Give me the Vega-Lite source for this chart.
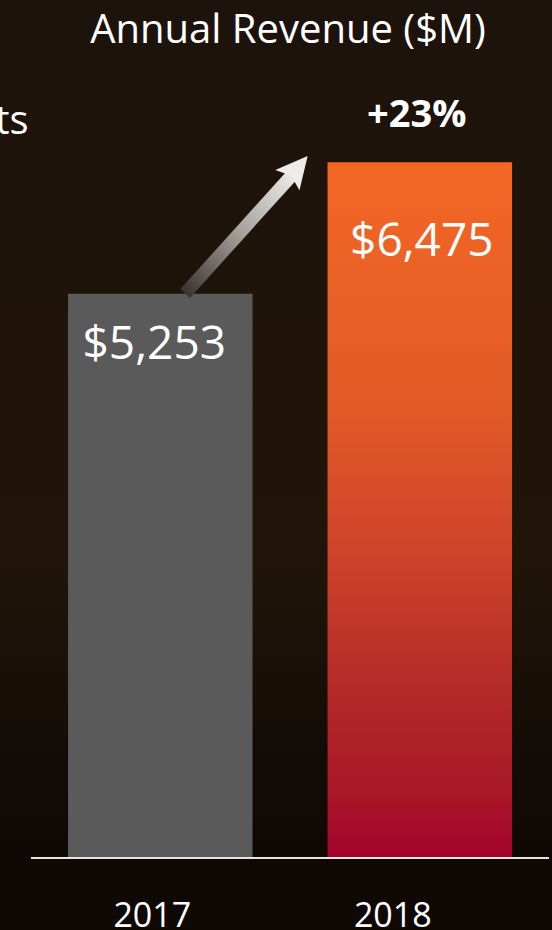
{
  "$schema": "https://vega.github.io/schema/vega-lite/v6.json",
  "width": 552,
  "height": 930,
  "autosize": "none",
  "padding": 0,
  "background": "#1a1109",
  "view": {
    "stroke": null,
    "fill": {
      "gradient": "linear", "x1": 0, "y1": 0, "x2": 0, "y2": 1,
      "stops": [
        {"offset": 0, "color": "#1c130c"},
        {"offset": 0.4, "color": "#201409"},
        {"offset": 0.6, "color": "#211509"},
        {"offset": 0.8, "color": "#140c06"},
        {"offset": 0.92, "color": "#0f0804"},
        {"offset": 1, "color": "#0f0905"}
      ]
    }
  },
  "title": {
    "text": "Annual Revenue ($M)",
    "font": "Open Sans",
    "fontSize": 40,
    "fontWeight": "normal",
    "color": "#ffffff",
    "anchor": "middle",
    "frame": "group",
    "dx": 12,
    "offset": -83,
    "baseline": "alphabetic"
  },
  "datasets": {
    "revenue": [
      {"year": "2017", "value": 5253, "label": "$5,253", "change": null},
      {"year": "2018", "value": 6475, "label": "$6,475", "change": "+23%"}
    ],
    "baseline": [
      {"pos": 2016.502, "pos2": 2018.498, "value": 0}
    ],
    "arrow": [
      {"pos": 2017.0954, "value": 5253},
      {"pos": 2017.5077, "value": 6357}
    ],
    "arrowhead": [
      {"pos": 2017.5269, "value": 6416}
    ],
    "sidetext": [
      {"pos": 2016.4923, "value": 6739, "text": "ts"}
    ]
  },
  "resolve": {"scale": {"x": "independent"}, "axis": {"x": "independent"}},
  "layer": [
    {
      "data": {"name": "revenue"},
      "transform": [{"filter": "datum.year == '2017'"}],
      "mark": {"type": "bar", "color": "#5a5a5a"},
      "encoding": {
        "x": {
          "field": "year", "type": "nominal",
          "scale": {"type": "band", "domain": ["2017", "2018"], "paddingInner": 0.289, "paddingOuter": 0.208, "align": 0.63},
          "axis": {
            "orient": "bottom", "offset": -72, "title": null,
            "domain": false,
            "ticks": false, "labelAngle": 0,
            "labelFont": "Open Sans", "labelFontSize": 34, "labelColor": "#ffffff",
            "labelPadding": 41,
            "labelOffset": {"condition": {"test": "datum.value == '2018'", "value": -27}, "value": -8}
          }
        },
        "y": {"field": "value", "type": "quantitative", "scale": {"domain": [-670.2, 7986.2], "nice": false, "zero": false}, "axis": null}
      }
    },
    {
      "data": {"name": "revenue"},
      "transform": [{"filter": "datum.year == '2018'"}],
      "mark": {
        "type": "bar",
        "color": {
          "gradient": "linear", "x1": 0, "y1": 0, "x2": 0, "y2": 1,
          "stops": [
            {"offset": 0, "color": "#f36724"},
            {"offset": 0.35, "color": "#e35a27"},
            {"offset": 0.55, "color": "#d0442a"},
            {"offset": 0.77, "color": "#b22827"},
            {"offset": 0.9, "color": "#aa1828"},
            {"offset": 1, "color": "#a3022a"}
          ]
        }
      },
      "encoding": {
        "x": {"field": "year", "type": "nominal", "scale": {"type": "band", "domain": ["2017", "2018"], "paddingInner": 0.289, "paddingOuter": 0.208, "align": 0.63}, "axis": null},
        "y": {"field": "value", "type": "quantitative", "scale": {"domain": [-670.2, 7986.2], "nice": false, "zero": false}, "axis": null}
      }
    },
    {
      "data": {"name": "revenue"},
      "transform": [{"filter": "datum.year == '2017'"}],
      "mark": {"type": "text", "font": "Open Sans", "fontSize": 46, "color": "#ffffff", "baseline": "alphabetic", "align": "center", "dx": -6, "dy": 65},
      "encoding": {
        "x": {"field": "year", "type": "nominal", "scale": {"type": "band", "domain": ["2017", "2018"], "paddingInner": 0.289, "paddingOuter": 0.208, "align": 0.63}, "axis": null},
        "y": {"field": "value", "type": "quantitative", "scale": {"domain": [-670.2, 7986.2], "nice": false, "zero": false}, "axis": null},
        "text": {"field": "label"}
      }
    },
    {
      "data": {"name": "revenue"},
      "transform": [{"filter": "datum.year == '2018'"}],
      "mark": {"type": "text", "font": "Open Sans", "fontSize": 46, "color": "#ffffff", "baseline": "alphabetic", "align": "center", "dx": 2, "dy": 94},
      "encoding": {
        "x": {"field": "year", "type": "nominal", "scale": {"type": "band", "domain": ["2017", "2018"], "paddingInner": 0.289, "paddingOuter": 0.208, "align": 0.63}, "axis": null},
        "y": {"field": "value", "type": "quantitative", "scale": {"domain": [-670.2, 7986.2], "nice": false, "zero": false}, "axis": null},
        "text": {"field": "label"}
      }
    },
    {
      "data": {"name": "revenue"},
      "transform": [{"filter": "datum.change != null"}],
      "mark": {"type": "text", "font": "Open Sans", "fontSize": 38, "fontWeight": "bold", "color": "#ffffff", "baseline": "alphabetic", "align": "center", "dx": -3, "dy": -35},
      "encoding": {
        "x": {"field": "year", "type": "nominal", "scale": {"type": "band", "domain": ["2017", "2018"], "paddingInner": 0.289, "paddingOuter": 0.208, "align": 0.63}, "axis": null},
        "y": {"field": "value", "type": "quantitative", "scale": {"domain": [-670.2, 7986.2], "nice": false, "zero": false}, "axis": null},
        "text": {"field": "change"}
      }
    },
    {
      "data": {"name": "baseline"},
      "mark": {"type": "rule", "color": "#e6e6e6", "strokeWidth": 2},
      "encoding": {
        "x": {"field": "pos", "type": "quantitative", "scale": {"domain": [2016.3825, 2018.5095], "nice": false, "zero": false}, "axis": null},
        "x2": {"field": "pos2"},
        "y": {"field": "value", "type": "quantitative", "scale": {"domain": [-670.2, 7986.2], "nice": false, "zero": false}, "axis": null}
      }
    },
    {
      "data": {"name": "arrow"},
      "mark": {
        "type": "line", "strokeWidth": 13, "strokeCap": "butt",
        "stroke": {
          "gradient": "linear", "x1": 0, "y1": 1, "x2": 1, "y2": 0,
          "stops": [
            {"offset": 0, "color": "#3a3430"},
            {"offset": 0.5, "color": "#a39e99"},
            {"offset": 1, "color": "#ece9e6"}
          ]
        }
      },
      "encoding": {
        "x": {"field": "pos", "type": "quantitative", "scale": {"domain": [2016.3825, 2018.5095], "nice": false, "zero": false}, "axis": null},
        "y": {"field": "value", "type": "quantitative", "scale": {"domain": [-670.2, 7986.2], "nice": false, "zero": false}, "axis": null}
      }
    },
    {
      "data": {"name": "arrowhead"},
      "mark": {"type": "point", "shape": "M0,-1L0.95,0.9L0,0.55L-0.95,0.9Z", "size": 1100, "filled": true, "opacity": 1, "color": "#eeebe8", "angle": 40},
      "encoding": {
        "x": {"field": "pos", "type": "quantitative", "scale": {"domain": [2016.3825, 2018.5095], "nice": false, "zero": false}, "axis": null},
        "y": {"field": "value", "type": "quantitative", "scale": {"domain": [-670.2, 7986.2], "nice": false, "zero": false}, "axis": null}
      }
    },
    {
      "data": {"name": "sidetext"},
      "mark": {"type": "text", "font": "Open Sans", "fontSize": 40, "color": "#ffffff", "align": "right", "baseline": "alphabetic"},
      "encoding": {
        "x": {"field": "pos", "type": "quantitative", "scale": {"domain": [2016.3825, 2018.5095], "nice": false, "zero": false}, "axis": null},
        "y": {"field": "value", "type": "quantitative", "scale": {"domain": [-670.2, 7986.2], "nice": false, "zero": false}, "axis": null},
        "text": {"field": "text"}
      }
    }
  ],
  "config": {"view": {"stroke": null}}
}
